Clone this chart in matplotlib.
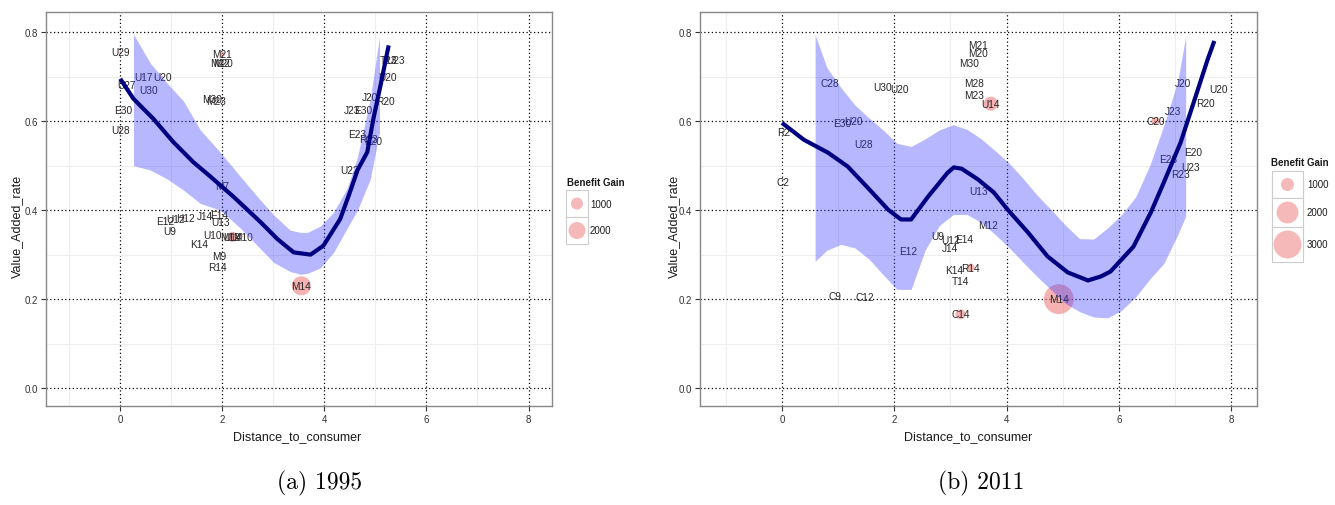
import matplotlib
matplotlib.use("Agg")
import matplotlib.pyplot as plt
from matplotlib.patches import Rectangle
import numpy as np

# ---------------- data : 1995 ----------------
labels_95 = ["U29", "U17", "U20", "U27", "U30", "E30", "U28", "M21", "M22", "M20", "M30", "M23", "M7",
             "T23", "U23", "U20", "J20", "R20", "J23", "E30", "E23", "R23", "E20", "U22",
             "E12", "U12", "H12", "U9", "J14", "E14", "U13", "U10", "M12", "U14", "M10", "K14", "M9", "R14", "M14"]
x_95 = [0.0, 0.45, 0.82, 0.13, 0.55, 0.05, 0.0, 2.0, 1.95, 2.02, 1.8, 1.87, 2.0,
        5.25, 5.39, 5.23, 4.89, 5.2, 4.55, 4.76, 4.65, 4.87, 4.96, 4.5,
        0.88, 1.08, 1.27, 0.97, 1.67, 1.93, 1.96, 1.8, 2.15, 2.2, 2.4, 1.55, 1.93, 1.9, 3.55]
y_95 = [0.755, 0.70, 0.70, 0.68, 0.67, 0.625, 0.58, 0.75, 0.73, 0.73, 0.65, 0.645, 0.455,
        0.737, 0.737, 0.70, 0.655, 0.645, 0.625, 0.625, 0.57, 0.56, 0.555, 0.49,
        0.375, 0.38, 0.382, 0.353, 0.387, 0.39, 0.373, 0.344, 0.34, 0.34, 0.34, 0.323, 0.297, 0.272, 0.23]
gain_95 = [20, 20, 20, 20, 20, 20, 20, 170, 20, 20, 20, 20, 20,
           20, 20, 20, 20, 20, 20, 20, 20, 20, 20, 20,
           20, 20, 20, 20, 20, 20, 20, 20, 20, 700, 20, 20, 20, 20, 2500]

smooth_x_95 = [0.0, 0.26, 0.65, 1.04, 1.43, 1.76, 2.22, 2.75, 3.08, 3.4, 3.73, 3.98, 4.31, 4.5, 4.65, 4.84, 4.96, 5.1, 5.26]
smooth_y_95 = [0.695, 0.65, 0.605, 0.553, 0.508, 0.476, 0.43, 0.373, 0.335, 0.305, 0.30, 0.32, 0.38, 0.44, 0.49, 0.53, 0.605, 0.68, 0.77]
band_x_95 = [0.26, 0.59, 0.92, 1.24, 1.57, 1.96, 2.35, 2.69, 3.0, 3.33, 3.53, 3.67, 3.92, 4.18, 4.45, 4.65, 4.9, 5.08]
band_hi_95 = [0.795, 0.73, 0.685, 0.645, 0.58, 0.53, 0.476, 0.43, 0.39, 0.355, 0.35, 0.35, 0.364, 0.395, 0.45, 0.52, 0.65, 0.79]
band_lo_95 = [0.50, 0.49, 0.47, 0.445, 0.415, 0.40, 0.36, 0.32, 0.283, 0.262, 0.256, 0.258, 0.27, 0.305, 0.36, 0.40, 0.47, 0.575]
legend_95 = [1000, 2000]

# ---------------- data : 2011 ----------------
labels_11 = ["M21", "M20", "M30", "M28", "M23", "U14", "C28", "U30", "U20", "E30", "U20", "U28", "R2", "C2", "U13",
             "M12", "U9", "U12", "E14", "J14", "E12", "R14", "K14", "T14", "C9", "C12", "C14", "M14",
             "J20", "U20", "R20", "J23", "C20", "E20", "E23", "U23", "R23"]
x_11 = [3.49, 3.5, 3.33, 3.42, 3.42, 3.72, 0.86, 1.8, 2.1, 1.08, 1.28, 1.46, 0.03, 0.02, 3.5,
        3.67, 2.78, 3.0, 3.24, 3.0, 2.24, 3.36, 3.06, 3.17, 0.94, 1.48, 3.18, 4.93,
        7.15, 7.78, 7.54, 6.96, 6.65, 7.33, 6.87, 7.28, 7.1]
y_11 = [0.771, 0.753, 0.731, 0.686, 0.659, 0.639, 0.686, 0.677, 0.672, 0.596, 0.60, 0.549, 0.576, 0.464, 0.442,
        0.366, 0.341, 0.332, 0.336, 0.316, 0.309, 0.271, 0.265, 0.24, 0.206, 0.204, 0.166, 0.20,
        0.686, 0.672, 0.641, 0.623, 0.60, 0.53, 0.515, 0.496, 0.48]
gain_11 = [250, 20, 20, 20, 20, 1100, 20, 300, 20, 20, 20, 20, 20, 20, 20,
           300, 20, 300, 20, 20, 20, 650, 300, 20, 20, 20, 780, 3350,
           20, 20, 20, 20, 650, 20, 20, 20, 20]

smooth_x_11 = [0.0, 0.39, 0.82, 1.17, 1.53, 1.89, 2.12, 2.3, 2.6, 2.95, 3.06, 3.2, 3.49, 3.77, 4.02, 4.38,
               4.73, 5.09, 5.45, 5.68, 5.85, 6.26, 6.57, 6.8, 7.1, 7.33, 7.58, 7.7]
smooth_y_11 = [0.596, 0.558, 0.529, 0.498, 0.450, 0.401, 0.379, 0.379, 0.43, 0.484, 0.496, 0.493, 0.469, 0.44,
               0.401, 0.35, 0.296, 0.26, 0.242, 0.251, 0.262, 0.318, 0.395, 0.462, 0.552, 0.641, 0.738, 0.78]
band_x_11 = [0.59, 0.8, 1.05, 1.3, 1.55, 1.8, 2.05, 2.3, 2.55, 2.8, 3.05, 3.3, 3.55, 3.8, 4.05, 4.3, 4.55,
             4.8, 5.05, 5.3, 5.55, 5.8, 6.05, 6.3, 6.55, 6.8, 7.05, 7.19]
band_hi_11 = [0.794, 0.72, 0.675, 0.636, 0.607, 0.58, 0.55, 0.543, 0.56, 0.58, 0.592, 0.581, 0.56, 0.533, 0.505,
              0.47, 0.433, 0.40, 0.366, 0.336, 0.335, 0.36, 0.39, 0.43, 0.50, 0.59, 0.69, 0.79]
band_lo_11 = [0.285, 0.31, 0.323, 0.315, 0.29, 0.255, 0.222, 0.222, 0.31, 0.365, 0.39, 0.39, 0.372, 0.345, 0.315,
              0.282, 0.25, 0.22, 0.19, 0.172, 0.16, 0.158, 0.175, 0.205, 0.245, 0.28, 0.345, 0.386]
legend_11 = [1000, 2000, 3000]

x_ticks = [0, 2, 4, 6, 8]
y_ticks = [0.0, 0.2, 0.4, 0.6, 0.8]
captions = ["(a) 1995", "(b) 2011"]

# ---------------- style ----------------
W, H = 1335, 506
SANS = "Liberation Sans"
PINK = "#F08080"
TXT = "#262626"


def size95(v):
    return max(v * 0.075, 0.3)


def size11(v):
    return max(0.159 * v - 71, 0.3)


def fx(px):
    return px / W


def fy(py):
    return 1 - py / H


fig = plt.figure(figsize=(W / 100, H / 100), dpi=100)
fig.patch.set_facecolor("white")


def make_panel(rect, xs, ys, labs, gains, sfun, sx, sy, bx, blo, bhi):
    ax = fig.add_axes(rect)
    ax.set_xlim(-1.46, 8.46)
    ax.set_ylim(-0.04, 0.845)
    ax.set_xticks(x_ticks)
    ax.set_yticks(y_ticks)
    ax.set_xticklabels([str(t) for t in x_ticks])
    ax.set_yticklabels(["%.1f" % t for t in y_ticks])
    ax.set_xticks([-1, 1, 3, 5, 7], minor=True)
    ax.set_yticks([0.1, 0.3, 0.5, 0.7], minor=True)
    ax.set_axisbelow(True)
    ax.grid(which="minor", color="#EEEEEE", linewidth=0.8, linestyle="-")
    ax.grid(which="major", color="black", linewidth=0.9, linestyle=(0, (1, 2)))
    ax.tick_params(which="minor", length=0)
    ax.tick_params(which="major", length=3.5, width=0.8, color="#333333",
                   labelsize=7, labelcolor="#333333", pad=2)
    for lab in ax.get_xticklabels() + ax.get_yticklabels():
        lab.set_family(SANS)
    for sp in ax.spines.values():
        sp.set_color("#888888")
        sp.set_linewidth(1.0)
    ax.scatter(xs, ys, s=[sfun(g) for g in gains], color=PINK, alpha=0.6,
               edgecolors="none", zorder=2)
    for x, y, t in zip(xs, ys, labs):
        ax.text(x, y, t, ha="center", va="center", fontsize=7.3, color=TXT,
                family=SANS, zorder=3)
    ax.fill_between(bx, blo, bhi, color=(0.2, 0.2, 1.0), alpha=0.35,
                    linewidth=0, zorder=4)
    ax.plot(sx, sy, color="#000080", linewidth=3.0, solid_capstyle="butt",
            solid_joinstyle="round", zorder=5)
    return ax


ax1 = make_panel([fx(45.7), fy(407), fx(552) - fx(45.7), fy(13) - fy(407)],
                 x_95, y_95, labels_95, gain_95, size95,
                 smooth_x_95, smooth_y_95, band_x_95, band_lo_95, band_hi_95)
ax2 = make_panel([fx(700), fy(407), fx(1257) - fx(700), fy(13) - fy(407)],
                 x_11, y_11, labels_11, gain_11, size11,
                 smooth_x_11, smooth_y_11, band_x_11, band_lo_11, band_hi_11)

# axis titles
for cx in (297, 968):
    fig.text(fx(cx), fy(437), "Distance_to_consumer", ha="center", va="center",
             fontsize=9, family=SANS, color="#1a1a1a")
for cx in (17, 674):
    fig.text(fx(cx), fy(226), "Value_Added_rate", ha="center", va="center",
             rotation=90, fontsize=9, family=SANS, color="#1a1a1a")

# captions
fig.text(fx(320), fy(483), captions[0], ha="center", va="center", fontsize=17, family="cmr10")
fig.text(fx(981), fy(483), captions[1], ha="center", va="center", fontsize=17, family="cmr10")


# legends (drawn in pixel coordinates)
def draw_legend(x0, x1, y0, y1, title_xy, box_left, box_right, box_edges, values, sfun, label_x):
    lax = fig.add_axes([fx(x0), fy(y1), fx(x1) - fx(x0), fy(y0) - fy(y1)])
    lax.set_xlim(x0, x1)
    lax.set_ylim(y1, y0)
    lax.axis("off")
    lax.text(title_xy[0], title_xy[1], "Benefit Gain", ha="left", va="center",
             fontsize=7, fontweight="bold", family=SANS, color="#1a1a1a")
    cx = (box_left + box_right) / 2
    for i, v in enumerate(values):
        top, bot = box_edges[i], box_edges[i + 1]
        lax.add_patch(Rectangle((box_left, top), box_right - box_left, bot - top,
                                facecolor="white", edgecolor="#CCCCCC", linewidth=0.8))
        cy = (top + bot) / 2
        lax.scatter([cx], [cy], s=[sfun(v)], color=PINK, alpha=0.55, edgecolors="none", zorder=3)
        lax.text(label_x, cy, str(v), ha="left", va="center", fontsize=7,
                 family=SANS, color="#1a1a1a")


draw_legend(555, 635, 170, 260, (567, 183), 566, 588, [191, 218, 245], legend_95, size95, 590)
draw_legend(1262, 1335, 150, 275, (1271, 163), 1272, 1303, [172, 199, 228, 263], legend_11, size11, 1307)

fig.savefig("out.png", dpi=100, facecolor="white")
